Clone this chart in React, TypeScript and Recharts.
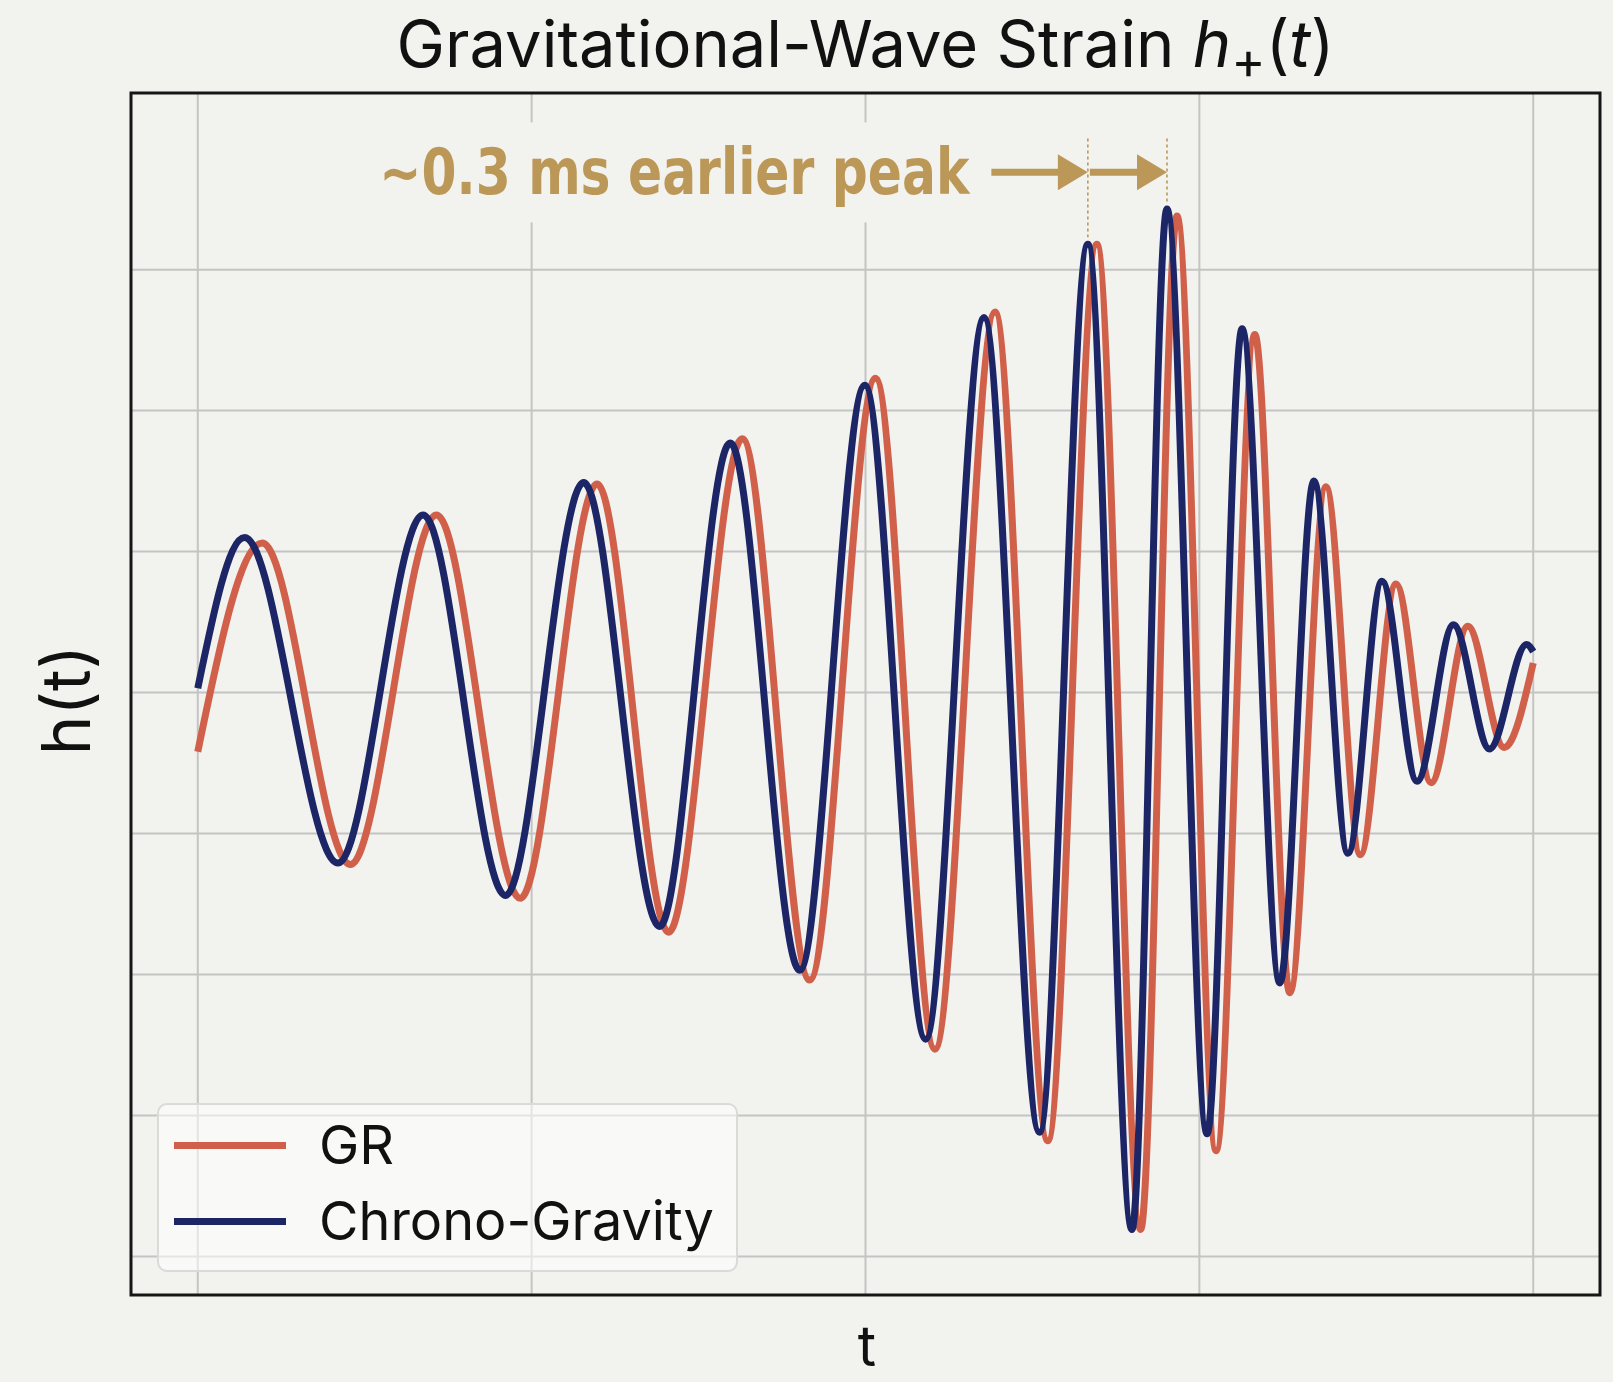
import React from 'react';
import { LineChart, Line, XAxis, YAxis, CartesianGrid, ReferenceLine, ReferenceArea } from 'recharts';

// ---- data (t in ms, h in grid units) ----
const X_TICKS = [0, 10, 20, 30, 40];
const Y_TICKS = [-4, -3, -2, -1, 0, 1, 2, 3];

const CG_T = [0, 1.40, 4.20, 6.75, 9.22, 11.56, 13.83, 15.95, 18.03, 19.98, 21.80, 23.55, 25.21, 26.66, 27.98, 29.03, 30.23, 31.28, 32.41, 33.43, 34.45, 35.47, 36.52, 37.61, 38.69, 39.80, 40.0];
const CG_H = [0.03, 1.10, -1.21, 1.26, -1.44, 1.49, -1.66, 1.77, -1.97, 2.18, -2.46, 2.66, -3.12, 3.18, -3.81, 3.43, -3.13, 2.58, -2.06, 1.50, -1.14, 0.79, -0.63, 0.48, -0.40, 0.34, 0.29];

const GR_T = [0, 1.93, 4.57, 7.15, 9.66, 11.96, 14.10, 16.31, 18.33, 20.30, 22.08, 23.88, 25.46, 26.93, 28.24, 29.33, 30.50, 31.66, 32.71, 33.79, 34.82, 35.89, 36.94, 38.04, 39.13, 40.0];
const GR_H = [-0.42, 1.06, -1.22, 1.26, -1.46, 1.48, -1.70, 1.80, -2.04, 2.23, -2.53, 2.70, -3.18, 3.18, -3.81, 3.38, -3.25, 2.54, -2.13, 1.46, -1.15, 0.77, -0.64, 0.47, -0.39, 0.21];

const SERIES_NAMES = ['GR', 'Chrono-Gravity'];
const ANNOT_TEXT = '~0.3 ms earlier peak';
const PEAK_A = { t: 26.66, h: 3.18 };
const PEAK_B = { t: 29.03, h: 3.43 };
const ARROW_START = 23.77;
const ARROW_H = 3.69;
const DASH_TOP = 3.93;

const X_DOMAIN = [-2, 42];
const Y_DOMAIN = [-4.274, 4.253];

const cgData = CG_T.map((t, i) => ({ t, h: CG_H[i] }));
const grData = GR_T.map((t, i) => ({ t, h: GR_H[i] }));

// ---- styles ----
const BG = '#f2f2ee';
const RED = '#d1604b';
const NAVY = '#1c2566';
const GOLD = '#bc9858';
const GRID = '#c4c4c4';
const FONT = 'Inter, "Liberation Sans", Arial, sans-serif';

const Arrow = (props: any) => {
  const { x1, y1, x2, y2, withText } = props;
  const head = 30;
  const hh = 18;
  return (
    <g>
      {withText && (
        <g>
          <rect x={x1 - 623} y={y1 - 50} width={615} height={100} fill={BG} />
          <text
            x={x1 - 22 - 590}
            y={y1 + 22}
            textLength={590}
            lengthAdjust="spacingAndGlyphs"
            fontFamily='"Liberation Sans Narrow", "DejaVu Sans Condensed", Roboto, sans-serif'
            fontWeight={700}
            fontSize={64}
            fill={GOLD}
          >
            {ANNOT_TEXT}
          </text>
        </g>
      )}
      <line x1={x1} y1={y1} x2={x2 - head + 2} y2={y2} stroke={GOLD} strokeWidth={7} />
      <polygon points={`${x2},${y2} ${x2 - head},${y2 - hh} ${x2 - head},${y2 + hh}`} fill={GOLD} />
    </g>
  );
};

export default function App() {
  return (
    <div style={{ position: 'absolute', left: 0, top: 0, width: 1613, height: 1382, background: BG, overflow: 'hidden' }}>
      <LineChart
        width={1613}
        height={1382}
        margin={{ top: 93, left: 131, right: 13, bottom: 87 }}
        style={{ position: 'absolute', left: 0, top: 0 }}
      >
        <CartesianGrid stroke={GRID} strokeWidth={2} />
        <XAxis
          dataKey="t"
          type="number"
          domain={X_DOMAIN}
          ticks={X_TICKS}
          allowDataOverflow
          hide
        />
        <YAxis type="number" domain={Y_DOMAIN} ticks={Y_TICKS} allowDataOverflow hide />
        <ReferenceLine
          segment={[{ x: PEAK_A.t, y: DASH_TOP }, { x: PEAK_A.t, y: PEAK_A.h + 0.05 }]}
          stroke={GOLD}
          strokeWidth={1.6}
          strokeDasharray="3 3"
        />
        <ReferenceLine
          segment={[{ x: PEAK_B.t, y: DASH_TOP }, { x: PEAK_B.t, y: PEAK_B.h + 0.05 }]}
          stroke={GOLD}
          strokeWidth={1.6}
          strokeDasharray="3 3"
        />
        <ReferenceLine
          segment={[{ x: ARROW_START, y: ARROW_H }, { x: PEAK_A.t, y: ARROW_H }]}
          shape={(p: any) => <Arrow {...p} withText />}
        />
        <ReferenceLine
          segment={[{ x: PEAK_A.t + 0.06, y: ARROW_H }, { x: PEAK_B.t, y: ARROW_H }]}
          shape={(p: any) => <Arrow {...p} />}
        />
        <Line
          data={grData}
          dataKey="h"
          name={SERIES_NAMES[0]}
          type="monotone"
          stroke={RED}
          strokeWidth={7}
          dot={false}
          isAnimationActive={false}
        />
        <Line
          data={cgData}
          dataKey="h"
          name={SERIES_NAMES[1]}
          type="monotone"
          stroke={NAVY}
          strokeWidth={7}
          dot={false}
          isAnimationActive={false}
        />
        <ReferenceArea
          x1={X_DOMAIN[0]}
          x2={X_DOMAIN[1]}
          y1={Y_DOMAIN[0]}
          y2={Y_DOMAIN[1]}
          fill="none"
          stroke="#161616"
          strokeWidth={3}
          ifOverflow="visible"
        />
      </LineChart>

      <svg width={1613} height={1382} style={{ position: 'absolute', left: 0, top: 0, pointerEvents: 'none' }}>
        <text x={865.5} y={67} textAnchor="middle" fontFamily={FONT} fontSize={65} fill="#111">
          Gravitational-Wave Strain{' '}
          <tspan fontStyle="italic">h</tspan>
          <tspan fontSize={52} dy={12}>+</tspan>
          <tspan dy={-12}>(</tspan>
          <tspan fontStyle="italic">t</tspan>
          <tspan>)</tspan>
        </text>
        <text x={867} y={1366} textAnchor="middle" fontFamily={FONT} fontSize={56} fill="#111">
          t
        </text>
        <text
          x={90}
          y={700}
          transform="rotate(-90 90 700)"
          textAnchor="middle"
          fontFamily={FONT}
          fontSize={67}
          fill="#111"
        >
          h(t)
        </text>
      </svg>

      <div
        style={{
          position: 'absolute',
          left: 157,
          top: 1103,
          width: 581,
          height: 169,
          boxSizing: 'border-box',
          background: 'rgba(255,255,255,0.55)',
          border: '2px solid #dadada',
          borderRadius: 10,
          fontFamily: FONT,
          fontSize: 54,
          color: '#111',
        }}
      >
        {[{ name: SERIES_NAMES[0], color: RED, cy: 42 }, { name: SERIES_NAMES[1], color: NAVY, cy: 118 }].map((it) => (
          <div key={it.name}>
            <div
              style={{
                position: 'absolute',
                left: 15,
                top: it.cy - 3.5 - 2,
                width: 112,
                height: 7,
                background: it.color,
              }}
            />
            <div
              style={{
                position: 'absolute',
                left: 160,
                top: it.cy - 32 - 2,
                height: 64,
                lineHeight: '64px',
                whiteSpace: 'nowrap',
              }}
            >
              {it.name}
            </div>
          </div>
        ))}
      </div>
    </div>
  );
}
